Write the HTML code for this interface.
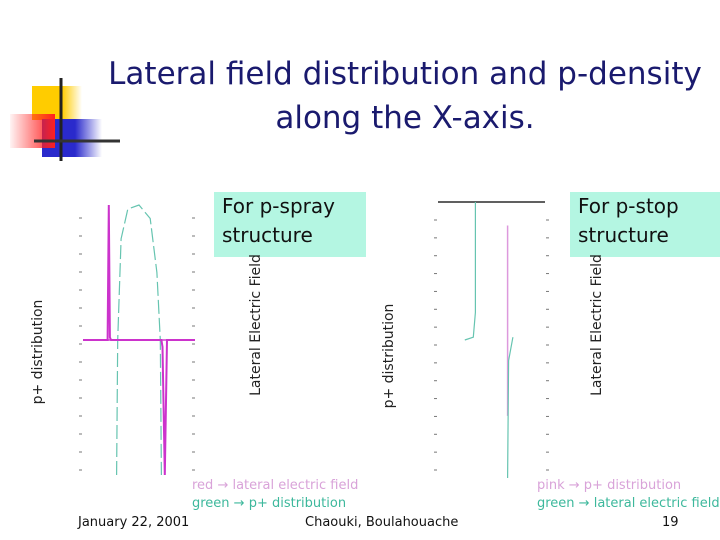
<!DOCTYPE html>
<html><head><meta charset="utf-8">
<style>
body{margin:0;background:#fff;}
#slide{position:relative;width:720px;height:540px;overflow:hidden;background:#fff;font-family:"DejaVu Sans","Liberation Sans",sans-serif;}
.t{position:absolute;white-space:nowrap;}
</style></head>
<body>
<div id="slide">
<svg width="720" height="540" style="position:absolute;left:0;top:0">
<defs>
<linearGradient id="gy" x1="0" x2="1"><stop offset="0" stop-color="#ffcc00"/><stop offset="0.6" stop-color="#ffcc00"/><stop offset="1" stop-color="#ffcc00" stop-opacity="0"/></linearGradient>
<linearGradient id="gr" x1="1" x2="0"><stop offset="0" stop-color="#ff2020"/><stop offset="1" stop-color="#ff2020" stop-opacity="0.05"/></linearGradient>
<linearGradient id="gb" x1="0" x2="1"><stop offset="0" stop-color="#2a2acc"/><stop offset="0.55" stop-color="#2a2acc"/><stop offset="1" stop-color="#2a2acc" stop-opacity="0"/></linearGradient>
</defs>
<g>
<rect x="32" y="86" width="50" height="34" fill="url(#gy)"/>
<rect x="42" y="119" width="60" height="38" fill="url(#gb)"/>
<rect x="10" y="114" width="45" height="34" fill="url(#gr)"/>
<line x1="61" y1="78" x2="61" y2="161" stroke="#222" stroke-width="3"/>
<line x1="34" y1="141" x2="120" y2="141" stroke="#333" stroke-width="3"/>
</g>
<g id="left"></g>
<g id="right"></g>
</svg>
<div class="t" style="left:60px;top:52px;width:690px;text-align:center;font-size:31px;line-height:44px;color:#1a1a6e;">Lateral field distribution and p-density<br>along the X-axis.</div>
<div class="t" style="left:214px;top:192px;width:144px;height:65px;padding-left:8px;background:#b4f6e2;font-size:20px;line-height:29px;color:#111;">For p-spray<br>structure</div>
<div class="t" style="left:570px;top:192px;width:142px;height:65px;padding-left:8px;background:#b4f6e2;font-size:20px;line-height:29px;color:#111;">For p-stop<br>structure</div>
<div class="t" style="left:38px;top:352px;font-size:14px;color:#222;transform:translate(-50%,-50%) rotate(-90deg);">p+ distribution</div>
<div class="t" style="left:256px;top:325px;font-size:14px;color:#222;transform:translate(-50%,-50%) rotate(-90deg);">Lateral Electric Field</div>
<div class="t" style="left:389px;top:356px;font-size:14px;color:#222;transform:translate(-50%,-50%) rotate(-90deg);">p+ distribution</div>
<div class="t" style="left:597px;top:325px;font-size:14px;color:#222;transform:translate(-50%,-50%) rotate(-90deg);">Lateral Electric Field</div>
<div class="t" style="left:192px;top:477px;font-size:13px;line-height:18px;"><span style="color:#d9a3d9">red → lateral electric field</span><br><span style="color:#3db89c">green → p+ distribution</span></div>
<div class="t" style="left:537px;top:477px;font-size:13px;line-height:18px;"><span style="color:#d9a3d9">pink → p+ distribution</span><br><span style="color:#3db89c">green → lateral electric field</span></div>
<div class="t" style="left:78px;top:515px;font-size:13px;color:#111;">January 22, 2001</div>
<div class="t" style="left:305px;top:515px;font-size:13px;color:#111;">Chaouki, Boulahouache</div>
<div class="t" style="left:662px;top:515px;font-size:13px;color:#111;">19</div>
</div>
<script>
// Left chart (p-spray): normalized x [0..1], y [-1..1]
const leftFieldX = [0, 0.22, 0.23, 0.24, 0.25, 0.7, 0.71, 0.73, 0.75, 1];
const leftFieldY = [0, 0, 1, 0.02, 0, 0, -0.05, -1, 0, 0];
const leftDensX = [0.3, 0.31, 0.34, 0.4, 0.5, 0.6, 0.66, 0.69, 0.7];
const leftDensY = [-1, 0, 0.75, 0.97, 1, 0.9, 0.5, 0, -1];
// Right chart (p-stop)
const rightFieldX = [0.35, 0.35, 0.35, 0.33, 0.25];
const rightFieldY = [1, 0.35, 0.2, 0.02, 0];
const rightDensX = [0.65, 0.65];
const rightDensY = [0.83, -0.55];
const rightField2X = [0.65, 0.66, 0.7];
const rightField2Y = [-1, -0.15, 0.02];
const NS='http://www.w3.org/2000/svg';
function mk(g,tag,a){const e=document.createElementNS(NS,tag);for(const k in a)e.setAttribute(k,a[k]);g.appendChild(e);return e;}
function axes(x0,x1,y0,y1){return {sx:v=>x0+v*(x1-x0),sy:v=>(y0+y1)/2-v*(y1-y0)/2};}
function line(g,ax,xs,ys,col,w,dash,name){
  const d=xs.map((x,i)=>(i?'L':'M')+ax.sx(x).toFixed(1)+','+ax.sy(ys[i]).toFixed(1)).join(' ');
  const p=mk(g,'path',{d:d,fill:'none',stroke:col,'stroke-width':w});
  if(dash)p.setAttribute('stroke-dasharray',dash);
  
  
}
function ticks(g,xl,xr,y0,y1,n){
  for(let i=0;i<=n;i++){const y=y0+(y1-y0)*i/n;
    const a=mk(g,'line',{x1:xl-3,x2:xl,y1:y,y2:y,stroke:'#777','stroke-width':1});
    
    
    const b=mk(g,'line',{x1:xr,x2:xr+3,y1:y,y2:y,stroke:'#777','stroke-width':1});
    
    }
}
const L=document.getElementById('left');
const la=axes(83,195,205,475);
ticks(L,82,192,218,470,14);
line(L,la,[0,1],[0,0],'#cc44cc',1.5,null,'zero-line');
line(L,la,leftDensX,leftDensY,'#66c4b0',1.2,'14 4','p-density-curve');
line(L,la,leftFieldX,leftFieldY,'#cc33cc',2,null,'field-curve');
const R=document.getElementById('right');
const ra=axes(438,545,202,478);
ticks(R,437,546,220,470,14);
line(R,ra,[0,1],[1,1],'#000',1.2,null,'top-line');
line(R,ra,rightFieldX,rightFieldY,'#66c4b0',1.2,null,'field-curve-left');
line(R,ra,rightDensX,rightDensY,'#dd99dd',1.5,null,'p-density-curve');
line(R,ra,rightField2X,rightField2Y,'#66c4b0',1.2,null,'field-curve-right');
</script>
</body></html>
